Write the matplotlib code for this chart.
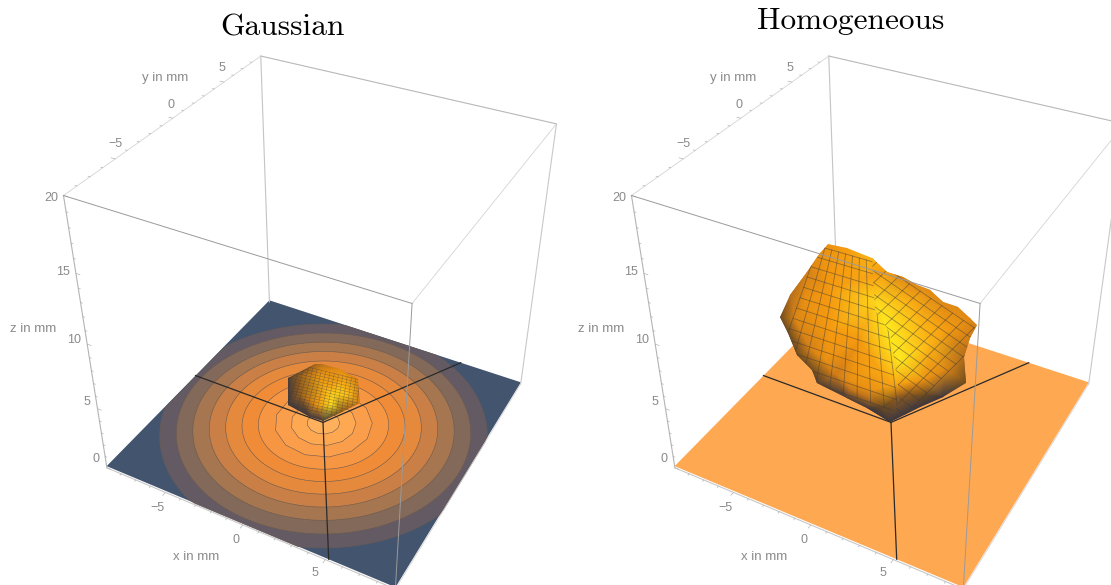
import numpy as np
import matplotlib
matplotlib.use('Agg')
import matplotlib.pyplot as plt
from matplotlib.colors import LinearSegmentedColormap
from matplotlib.patches import Polygon
from mpl_toolkits.mplot3d.art3d import Poly3DCollection

# Axis ranges and ticks
box_half = 9
z_top = 20
major_ticks = [-5, 0, 5]
minor_ticks = [-8, -7, -6, -4, -3, -2, -1, 1, 2, 3, 4, 6, 7, 8]
z_major = [0, 5, 10, 15, 20]
z_minor = [1, 2, 3, 4, 6, 7, 8, 9, 11, 12, 13, 14, 16, 17, 18, 19]

# Black lines on the floor, end points in mm
spoke_x = [-9, 5.0, 5.2]
spoke_y = [0, 9, -9]

# Contour bands of the Gaussian floor, outermost first
ring_radii = [9.6, 8.64, 7.68, 6.72, 5.76, 4.8, 3.84, 2.88, 1.92, 0.96]
ring_colors = ['#635a63', '#83695a', '#a5764f', '#c97f45', '#e5893c',
               '#f08c38', '#f79642', '#fb9e4b', '#ffa852', '#ffb05c']

# Tick label positions in pixels, left panel
z_label_x = [96, 87, 74, 63, 51]
z_label_y = [459, 402, 340, 272, 198]
x_label_x = [157, 236, 315]
x_label_y = [508, 540, 573]
y_label_x = [115, 171, 222]
y_label_y = [144, 105, 68]

# Small surface (Gaussian), pixels
hex_outline_x = [315, 322, 340, 358, 360, 340, 323, 310, 288, 288]
hex_outline_y = [364, 364, 369, 379, 403, 413, 421, 417, 405, 378]
hex_outline_s = [0.3, 0.35, 0.5, 0.45, 0.4, 0.25, 0.0, 0.0, 0.0, 0.05]
hex_inner_x = [300, 320, 345, 350, 332, 316, 300, 325, 335]
hex_inner_y = [376, 372, 380, 395, 405, 405, 395, 390, 395]
hex_inner_s = [0.3, 0.55, 0.65, 0.75, 0.95, 0.55, 0.3, 0.7, 0.9]
hex_corners = [(300, 365), (360, 380), (355, 420), (288, 405)]

# Large surface (Homogeneous), pixels
blob_outline_x = [820, 828, 847, 872, 887, 903, 917, 930, 943, 958, 970, 977, 970, 964,
                  966, 943, 920, 890, 867, 847, 817, 812, 797, 788, 780, 790, 807]
blob_outline_y = [253, 244, 248, 258, 272, 277, 285, 290, 302, 307, 318, 325, 338, 357,
                  383, 397, 407, 422, 408, 398, 383, 370, 355, 333, 317, 295, 272]
blob_outline_s = [0.55, 0.55, 0.62, 0.72, 0.6, 0.5, 0.5, 0.5, 0.5, 0.5, 0.5, 0.45, 0.45, 0.35,
                  0.2, 0.0, 0.0, 0.0, 0.0, 0.05, 0.1, 0.2, 0.2, 0.2, 0.2, 0.35, 0.45]
blob_inner_x = [805, 830, 860, 876, 885, 900, 895, 870, 850, 825, 830, 860, 880, 920,
                930, 945, 945, 925, 910, 900, 870, 850, 925, 795, 810, 835, 882]
blob_inner_y = [300, 290, 280, 300, 320, 360, 385, 390, 380, 360, 330, 340, 370, 320,
                345, 330, 370, 380, 300, 395, 400, 390, 395, 320, 350, 375, 407]
blob_inner_s = [0.55, 0.6, 0.65, 0.9, 1.0, 1.0, 0.65, 0.55, 0.55, 0.55, 0.6, 0.6, 0.66, 0.72,
                0.72, 0.62, 0.5, 0.55, 0.68, 0.3, 0.35, 0.38, 0.2, 0.48, 0.45, 0.42, 0.2]
ridge_x = [873, 875, 890, 900]
ridge_y = [258, 310, 333, 397]
blob_left_corners = [(818, 246), (880, 264), (898, 412), (775, 370)]
blob_right_corners = [(877, 262), (985, 335), (905, 415), (800, 335)]

surface_cmap = LinearSegmentedColormap.from_list(
    'surface', ['#3a3640', '#6b4a20', '#c9771a', '#f59a10', '#ffc51a', '#ffe81f'])

PANEL_STEP = 568
W, H = 1111, 585

fig = plt.figure(figsize=(W / 100, H / 100), dpi=100)


def new_3d(dx, order):
    # square 3D axes placed so that the box lands where the reference has it
    side = 555
    left = 38 + dx
    top = 32.5
    ax = fig.add_axes([left / W, (H - top - side) / H, side / W, side / H],
                      projection='3d', zorder=order)
    ax.set_xlim(-box_half, box_half, view_margin=0)
    ax.set_ylim(-box_half, box_half, view_margin=0)
    ax.set_zlim(0, z_top, view_margin=0)
    ax.set_box_aspect((1, 1, 0.99), zoom=1)
    ax.view_init(elev=36.3, azim=-61.6)
    ax.set_proj_type('persp', focal_length=0.372)
    ax.set_axis_off()
    ax.patch.set_alpha(0)
    ax.computed_zorder = False
    return ax


def edge(ax, p, q, color='#c4c4c4', lw=0.8, z=5):
    ax.plot([p[0], q[0]], [p[1], q[1]], [p[2], q[2]], color=color, lw=lw, zorder=z)


def floor_and_back(ax, floor_color, rings):
    L = box_half
    ax.add_collection3d(Poly3DCollection(
        [[(-L, -L, 0.15), (L, -L, 0.15), (L, L, 0.15), (-L, L, 0.15)]],
        facecolor=floor_color, edgecolor='none', zorder=1))
    if rings:
        for i, (r, c) in enumerate(zip(ring_radii, ring_colors)):
            n = 14 if i > 6 else 120
            t = np.linspace(0, 2 * np.pi, n)
            # bands end at the border of the floor
            px = np.clip(r * np.cos(t), -L, L)
            py = np.clip(r * np.sin(t), -L, L)
            verts = list(zip(px, py, 0.15 + 0 * t))
            ax.add_collection3d(Poly3DCollection([verts], facecolor=c, edgecolor='#6a5a50',
                                                 linewidth=0.4, zorder=2 + i * 0.01))
    for sx, sy in zip(spoke_x, spoke_y):
        ax.plot([0, sx], [0, sy], [0.15, 0.15], color='#2a2a2a', lw=0.9, zorder=3)
    # back and top edges
    edge(ax, (-L, L, 0), (-L, L, z_top))
    edge(ax, (-L, L, z_top), (L, L, z_top), color='#b8b8b8')
    edge(ax, (-L, -L, z_top), (-L, L, z_top), color='#d4d4d4', lw=0.6)
    edge(ax, (-L, -L, 0), (-L, -L, z_top), color='#b4b4b4')
    edge(ax, (L, L, 0), (L, L, z_top), color='#c8c8c8')
    edge(ax, (-L, -L, 0), (L, -L, 0), color='#c8c8c8')
    edge(ax, (L, -L, 0), (L, L, 0), color='#d4d4d4', lw=0.6)
    # ticks
    for vals, size in ((major_ticks, 0.25), (minor_ticks, 0.12)):
        for v in vals:
            edge(ax, (v, -L, 0), (v, -L - size, 0), color='#b4b4b4', lw=0.5)
            edge(ax, (-L, v, z_top), (-L - size, v, z_top), color='#b4b4b4', lw=0.5)
    for vals, size in ((z_major, 0.25), (z_minor, 0.12)):
        for v in vals:
            edge(ax, (-L, -L, v), (-L + size, -L, v), color='#b4b4b4', lw=0.5)


def front_edges(ax):
    L = box_half
    edge(ax, (-L, -L, z_top), (L, -L, z_top), color='#9a9a9a', lw=0.7)
    edge(ax, (L, -L, z_top), (L, L, z_top), color='#d4d4d4', lw=0.6)
    edge(ax, (L, -L, 0), (L, -L, z_top), color='#9a9a9a', lw=0.7)


def mesh(ax, corners, nu, nv, clip, lw, color='#3a3a3a', alpha=0.5):
    # grid lines of one surface face, spanned between its four corners
    c = np.array(corners, dtype=float)
    for u in np.linspace(0, 1, nu):
        a = c[0] + (c[1] - c[0]) * u
        b = c[3] + (c[2] - c[3]) * u
        ln, = ax.plot([a[0], b[0]], [a[1], b[1]], color=color, lw=lw, alpha=alpha, zorder=4)
        ln.set_clip_path(clip)
    for v in np.linspace(0, 1, nv):
        a = c[0] + (c[3] - c[0]) * v
        b = c[1] + (c[2] - c[1]) * v
        ln, = ax.plot([a[0], b[0]], [a[1], b[1]], color=color, lw=lw, alpha=alpha, zorder=4)
        ln.set_clip_path(clip)


def surface(ax, ox, oy, os_, ix, iy, is_):
    xs = np.array(ox + ix, dtype=float)
    ys = np.array(oy + iy, dtype=float)
    clip = Polygon(np.column_stack([ox, oy]), closed=True, transform=ax.transData)
    tp = ax.tripcolor(xs, ys, np.array(os_ + is_), shading='gouraud',
                      cmap=surface_cmap, vmin=0, vmax=1, zorder=3)
    tp.set_clip_path(clip)
    return clip


back_l = new_3d(0, 1)
floor_and_back(back_l, '#43546f', True)
back_r = new_3d(PANEL_STEP, 1)
floor_and_back(back_r, '#ffa852', False)

over = fig.add_axes([0, 0, 1, 1], zorder=2)
over.set_xlim(0, W)
over.set_ylim(H, 0)
over.axis('off')
over.patch.set_alpha(0)

hex_clip = surface(over, hex_outline_x, hex_outline_y, hex_outline_s,
                   hex_inner_x, hex_inner_y, hex_inner_s)
mesh(over, hex_corners, 15, 15, hex_clip, 0.35)

surface(over, blob_outline_x, blob_outline_y, blob_outline_s,
        blob_inner_x, blob_inner_y, blob_inner_s)
# each face of the large surface has its own grid, split along the ridge
left_clip = Polygon(np.column_stack([blob_outline_x[17:] + blob_outline_x[:4] + ridge_x[1:],
                                     blob_outline_y[17:] + blob_outline_y[:4] + ridge_y[1:]]),
                    closed=True, transform=over.transData)
right_clip = Polygon(np.column_stack([blob_outline_x[3:18] + ridge_x[3:0:-1],
                                      blob_outline_y[3:18] + ridge_y[3:0:-1]]),
                     closed=True, transform=over.transData)
mesh(over, blob_left_corners, 10, 13, left_clip, 0.6)
mesh(over, blob_right_corners, 11, 12, right_clip, 0.6)

# tick and axis labels
for dx in (0, PANEL_STEP):
    for x, y, s in zip(z_label_x, z_label_y, z_major):
        over.text(x + dx, y, str(s), color='#8a8a8a', fontsize=9, family='Liberation Sans',
                  ha='center', va='center')
    for xs, ys in ((x_label_x, x_label_y), (y_label_x, y_label_y)):
        for x, y, s in zip(xs, ys, major_ticks):
            over.text(x + dx, y, str(s).replace('-', '\u2212'), color='#8a8a8a', fontsize=9,
                      family='Liberation Sans', ha='center', va='center')
    over.text(196 + dx, 557, 'x in mm', color='#8a8a8a', fontsize=9.5, family='Liberation Sans', ha='center', va='center')
    over.text(165 + dx, 78, 'y in mm', color='#8a8a8a', fontsize=9.5, family='Liberation Sans', ha='center', va='center')
    over.text(33 + dx, 329, 'z in mm', color='#8a8a8a', fontsize=9.5, family='Liberation Sans', ha='center', va='center')

over.text(283, 28, 'Gaussian', family='cmr10', fontsize=22.6, ha='center', va='center', color='black')
over.text(851, 21, 'Homogeneous', family='cmr10', fontsize=22.6, ha='center', va='center', color='black')

front_l = new_3d(0, 3)
front_edges(front_l)
front_r = new_3d(PANEL_STEP, 3)
front_edges(front_r)

fig.savefig('out.png', dpi=100)
